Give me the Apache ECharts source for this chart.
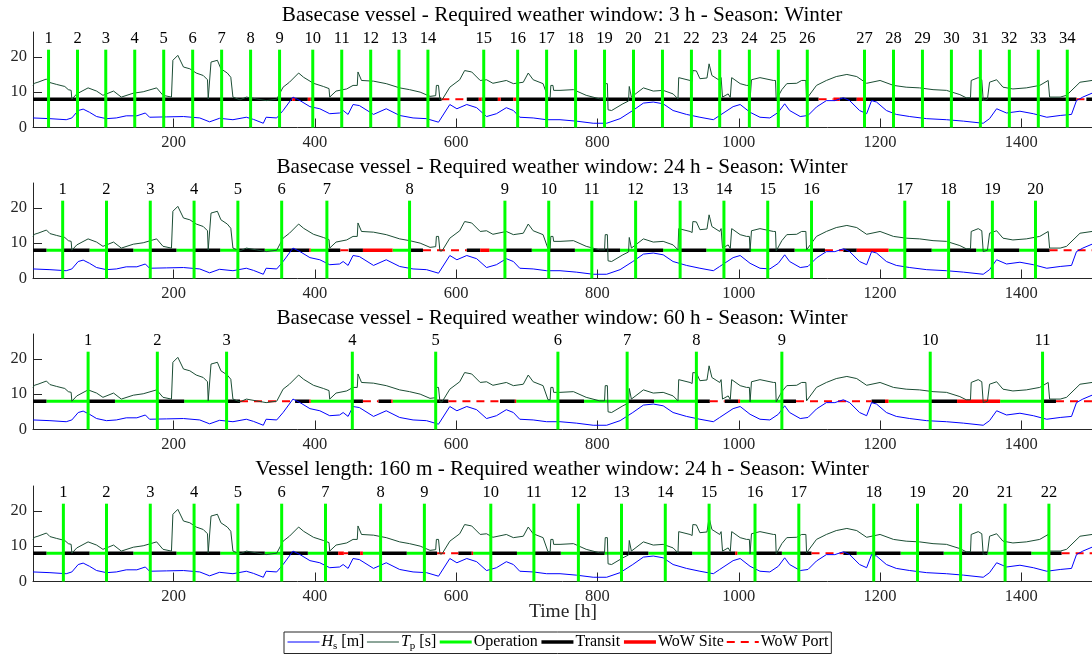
<!DOCTYPE html>
<html>
<head>
<meta charset="utf-8">
<script src="https://cdn.jsdelivr.net/npm/echarts@6/dist/echarts.min.js"></script>
<style>
  html, body { margin: 0; padding: 0; background: #fff; }
  #chart { width: 1092px; height: 659px; }
</style>
</head>
<body>
<div id="chart"></div>
<script>
// ---- Weather time series (shared by all four panels) ----
const hsHours = [1,25,48,56,65,72,81,91,105,119,133,148,160,166,190,214,237,251,265,284,303,313,327,331,346,355,369,379,393,407,421,435,440,447,454,463,
  483,501,520,539,558,575,591,601,615,629,643,657,671,681,690,709,728,747,770,794,813,832,850,865,879,893,907,926,945,964,973,
  992,1002,1016,1030,1044,1056,1065,1072,1087,1098,1110,1124,1136,1148,1157,1171,1181,1188,1195,1209,1223,1242,1266,1294,1318,1346,1355,1365,1379,1398,1417,1436,1455,1471,1478,1487,1500];
const hsValues = [2.7,2.5,2.2,2.7,4.8,5.2,4.3,3.1,2.5,2.7,3.3,3.3,4.1,2.9,3.0,3.1,2.7,1.6,2.6,2.2,2.9,2.3,1.2,2.9,2.7,4.8,8.6,7.6,5.9,5.3,3.9,4.1,4.8,3.7,6.5,6.2,
  3.7,5.3,3.4,2.7,2.5,1.5,6.5,5.3,6.5,5.6,3.1,3.9,5.6,4.8,2.9,2.7,2.2,2.2,1.8,1.2,1.2,2.5,4.8,6.9,7.2,6.7,4.8,3.7,2.9,2.2,3.4,
  5.9,6.5,4.3,2.9,2.7,4.3,6.7,4.8,3.1,3.4,5.8,7.6,7.6,8.4,7.6,4.8,3.9,7.6,7.2,4.8,3.7,3.1,2.5,2.2,1.8,1.2,2.5,5.3,4.1,4.6,3.9,2.9,3.4,3.7,7.6,8.6,9.7];

const tpHours = [1,3,8,20,25,34,46,51,55,56,58,63,79,91,100,115,126,143,157,176,185,197,199,206,214,223,232,242,248,249,250,253,262,267,276,281,284,294,303,317,331,346,355,364,377,384,398,412,420,421,430,445,454,460,461,466,483,501,520,534,549,563,571,572,575,577,580,591,605,612,622,634,643,652,671,681,695,702,709,723,730,733,734,737,738,747,766,784,803,810,811,814,815,820,836,844,845,847,848,850,865,879,893,907,914,915,931,934,935,940,945,955,958,960,962,973,975,977,985,988,990,1002,1011,1015,1016,1017,1018,1030,1049,1052,1053,1061,1068,1082,1089,1095,1096,1110,1124,1138,1153,1167,1181,1200,1219,1237,1256,1275,1294,1313,1322,1328,1329,1339,1344,1346,1352,1355,1365,1374,1388,1407,1426,1438,1439,1440,1455,1464,1483,1500];
const tpValues = [11.9,12.5,12.8,13.7,12.7,12.2,11.6,10.7,10.5,8.0,8.0,9.5,11.2,10.3,9.1,10.3,8.6,9.7,10.1,11.2,9.1,8.6,19.0,20.4,17.1,16.6,15.4,14.7,13.5,8.1,8.1,18.5,19.0,16.6,15.4,14.2,8.6,7.8,8.6,8.1,7.6,8.0,11.4,12.8,15.4,14.2,12.5,11.6,11.0,8.6,10.3,10.9,11.9,11.9,15.7,13.3,13.1,12.4,11.2,10.7,10.0,8.8,9.0,11.9,11.9,7.8,7.8,11.4,13.5,16.1,15.7,13.3,13.5,12.5,13.3,12.4,12.8,15.4,13.5,12.4,8.4,8.4,11.9,11.9,10.5,10.5,10.7,9.1,8.1,8.1,12.4,12.4,5.0,4.8,6.7,7.5,11.6,11.6,8.6,8.6,11.2,10.3,10.5,9.5,8.1,14.1,13.3,13.0,16.1,16.0,13.8,14.0,18.0,17.5,14.7,13.3,14.1,8.6,9.5,8.5,14.1,12.4,11.9,11.9,7.8,7.8,13.5,14.1,13.3,13.3,7.8,10.7,12.4,12.5,13.3,13.3,8.1,11.9,13.3,14.4,15.0,14.4,12.5,13.3,11.9,11.4,11.2,10.7,10.5,9.3,8.4,8.4,13.3,14.1,13.5,7.6,8.0,12.8,13.5,11.4,10.9,11.2,11.9,13.3,13.3,8.6,8.6,9.1,12.8,13.3];

// ---- Panel titles ----
const titles = [
  'Basecase vessel - Required weather window: 3 h - Season: Winter',
  'Basecase vessel - Required weather window: 24 h - Season: Winter',
  'Basecase vessel - Required weather window: 60 h - Season: Winter',
  'Vessel length: 160 m - Required weather window: 24 h - Season: Winter'
];

// ---- Operation times [h] per panel ----
const ops1 = [23,64,104,145,186,227,268,309,350,397,438,479,519,560,639,687,728,769,810,851,892,933,973,1015,1056,1097,1178,1219,1260,1301,1342,1383,1424,1465];
const ops2 = [43,105,167,229,291,353,417,534,669,731,792,854,917,979,1041,1103,1235,1297,1359,1420];
const ops3 = [79,177,275,453,571,744,842,940,1061,1271,1430];
const ops4 = [44,105,167,229,291,353,415,493,555,649,710,773,834,896,958,1023,1085,1191,1253,1314,1377,1439];

// ---- Vessel state intervals [start, end, state] per panel ----
// O = operation, T = transit, S = waiting on weather at site, P = waiting on weather in port
const states1 = [[1,368,'T'],[368,372,'S'],[372,390,'T'],[390,394,'S'],[394,579,'T'],[579,615,'P'],[615,632,'T'],[632,636,'S'],[636,659,'T'],[659,663,'S'],[663,681,'T'],[681,685,'S'],[685,1113,'T'],[1113,1134,'P'],[1134,1143,'S'],[1143,1167,'T'],[1167,1176,'S'],[1176,1478,'T'],[1478,1492,'P'],[1492,1500,'T']];
const states2 = [[1,20,'T'],[20,43,'O'],[43,81,'T'],[81,105,'O'],[105,143,'T'],[143,167,'O'],[167,204,'T'],[204,229,'O'],[229,266,'T'],[266,291,'O'],[291,329,'T'],[329,353,'O'],[353,392,'T'],[392,394,'S'],[394,417,'O'],[417,436,'T'],[436,448,'P'],[448,468,'T'],[468,510,'S'],[510,534,'O'],[534,553,'T'],[553,615,'P'],[615,634,'T'],[634,647,'S'],[647,669,'O'],[669,707,'T'],[707,731,'O'],[731,768,'T'],[768,792,'O'],[792,832,'T'],[832,854,'O'],[854,893,'T'],[893,917,'O'],[917,954,'T'],[954,979,'O'],[979,1017,'T'],[1017,1041,'O'],[1041,1079,'T'],[1079,1103,'O'],[1103,1122,'T'],[1122,1148,'P'],[1148,1167,'T'],[1167,1212,'S'],[1212,1235,'O'],[1235,1273,'T'],[1273,1297,'O'],[1297,1336,'T'],[1336,1359,'O'],[1359,1397,'T'],[1397,1420,'O'],[1420,1440,'T'],[1440,1500,'P']];
const states3 = [[1,20,'T'],[20,79,'O'],[79,117,'T'],[117,177,'O'],[177,215,'T'],[215,275,'O'],[275,294,'T'],[294,372,'P'],[372,392,'T'],[392,394,'S'],[394,453,'O'],[453,468,'T'],[468,490,'P'],[490,508,'T'],[508,510,'S'],[510,571,'O'],[571,589,'T'],[589,662,'P'],[662,683,'T'],[683,685,'S'],[685,744,'O'],[744,781,'T'],[781,842,'O'],[842,880,'T'],[880,940,'O'],[940,959,'T'],[959,980,'P'],[980,999,'T'],[999,1002,'S'],[1002,1061,'O'],[1061,1081,'T'],[1081,1188,'P'],[1188,1207,'T'],[1207,1212,'S'],[1212,1271,'O'],[1271,1309,'T'],[1309,1370,'S'],[1370,1430,'O'],[1430,1449,'T'],[1449,1500,'P']];
const states4 = [[1,20,'T'],[20,44,'O'],[44,81,'T'],[81,105,'O'],[105,143,'T'],[143,167,'O'],[167,204,'T'],[204,229,'O'],[229,266,'T'],[266,291,'O'],[291,329,'T'],[329,353,'O'],[353,390,'T'],[390,415,'O'],[415,433,'T'],[433,441,'S'],[441,447,'P'],[447,464,'T'],[464,468,'S'],[468,493,'O'],[493,530,'T'],[530,555,'O'],[555,573,'T'],[573,603,'P'],[603,622,'T'],[622,624,'S'],[624,649,'O'],[649,686,'T'],[686,710,'O'],[710,748,'T'],[748,773,'O'],[773,810,'T'],[810,834,'O'],[834,872,'T'],[872,896,'O'],[896,934,'T'],[934,958,'O'],[958,995,'T'],[995,998,'S'],[998,1023,'O'],[1023,1061,'T'],[1061,1085,'O'],[1085,1103,'T'],[1103,1148,'P'],[1148,1167,'T'],[1167,1191,'O'],[1191,1229,'T'],[1229,1253,'O'],[1253,1290,'T'],[1290,1314,'O'],[1314,1352,'T'],[1352,1377,'O'],[1377,1414,'T'],[1414,1439,'O'],[1439,1457,'T'],[1457,1500,'P']];

const xTicks = [200,400,600,800,1000,1200,1400];
const yTicks = [0,10,20];

// ---- Drawing ----
const SERIF = '"Liberation Serif", "DejaVu Serif", serif';
const STATE_LEVEL = 8;      // state bar drawn at this height
const OP_TOP = 22;          // top of operation markers
const OP_LABEL_Y = 25.2;    // height of operation numbers

const opsAll = [ops1, ops2, ops3, ops4];
const statesAll = [states1, states2, states3, states4];
const gridTops = [32, 183, 334, 486];
const titleY = [15, 167, 318, 469];

const hsData = hsHours.map((h, i) => [h, hsValues[i]]);
const tpData = tpHours.map((h, i) => [h, tpValues[i]]);

function segLine(states, code) {
  const out = [];
  states.filter(s => s[2] === code).forEach(s => {
    out.push([s[0], STATE_LEVEL], [s[1], STATE_LEVEL], [s[1], '-']);
  });
  return out;
}

const grids = [], xAxes = [], yAxes = [], series = [], graphics = [];
gridTops.forEach((top, k) => {
  grids.push({ left: 33, right: 0, top: top, height: 95.5 });
  graphics.push({
    type: 'text', x: 562, y: titleY[k], silent: true,
    style: { text: titles[k], font: '21.2px ' + SERIF, fill: '#000', align: 'center', verticalAlign: 'middle' }
  });
  xAxes.push({
    gridIndex: k, type: 'value', min: 1, max: 1500,
    axisLine: { lineStyle: { color: '#262626', width: 1 } },
    axisTick: { inside: true, length: 9, customValues: xTicks, lineStyle: { color: '#262626' } },
    axisLabel: { customValues: xTicks, formatter: v => String(v), fontFamily: SERIF, fontSize: 16.5, color: '#262626', margin: 7 },
    splitLine: { show: false }
  });
  yAxes.push({
    gridIndex: k, type: 'value', min: 0, max: 27,
    axisLine: { show: true, lineStyle: { color: '#262626', width: 1 } },
    axisTick: { show: true, inside: true, length: 9, customValues: yTicks, lineStyle: { color: '#262626' } },
    axisLabel: { customValues: yTicks, fontFamily: SERIF, fontSize: 16.5, color: '#262626', margin: 6 },
    splitLine: { show: false }
  });

  const st = statesAll[k];
  series.push(
    { name: 'Operation', type: 'line', xAxisIndex: k, yAxisIndex: k, data: segLine(st, 'O'),
      symbol: 'none', lineStyle: { color: '#00ff00', width: 3 }, itemStyle: { color: '#00ff00' }, z: 2 },
    { name: 'Transit', type: 'line', xAxisIndex: k, yAxisIndex: k, data: segLine(st, 'T'),
      symbol: 'none', lineStyle: { color: '#000000', width: 3.5 }, itemStyle: { color: '#000000' }, z: 2 },
    { name: 'WoW Site', type: 'line', xAxisIndex: k, yAxisIndex: k, data: segLine(st, 'S'),
      symbol: 'none', lineStyle: { color: '#ff0000', width: 3.5 }, itemStyle: { color: '#ff0000' }, z: 2 },
    { name: 'WoW Port', type: 'line', xAxisIndex: k, yAxisIndex: k, data: segLine(st, 'P'),
      symbol: 'none', lineStyle: { color: '#ff0000', width: 2, type: [8, 6] }, itemStyle: { color: '#ff0000' }, z: 2 },
    { name: 'Tp [s]', type: 'line', xAxisIndex: k, yAxisIndex: k, data: tpData,
      symbol: 'none', lineStyle: { color: '#1b4d34', width: 1 }, itemStyle: { color: '#1b4d34' }, z: 3 },
    { name: 'Hs [m]', type: 'line', xAxisIndex: k, yAxisIndex: k, data: hsData,
      symbol: 'none', lineStyle: { color: '#0000ff', width: 1 }, itemStyle: { color: '#0000ff' }, z: 3 },
    { name: 'ops' + k, type: 'custom', xAxisIndex: k, yAxisIndex: k, z: 4, silent: true,
      data: opsAll[k].map((t, i) => [t, i + 1]),
      renderItem: function (params, api) {
        const t = api.value(0);
        const p0 = api.coord([t, 0]);
        const p1 = api.coord([t, OP_TOP]);
        const pl = api.coord([t, OP_LABEL_Y]);
        return { type: 'group', children: [
          { type: 'line', shape: { x1: p0[0], y1: p0[1], x2: p1[0], y2: p1[1] },
            style: { stroke: '#00ff00', lineWidth: 3 } },
          { type: 'text', style: { text: String(api.value(1)), x: pl[0], y: pl[1],
            align: 'center', verticalAlign: 'middle', font: '16.5px ' + SERIF, fill: '#000' } }
        ] };
      }
    }
  );
});

graphics.push({
  type: 'text', x: 563, y: 612, silent: true,
  style: { text: 'Time [h]', font: '19.5px ' + SERIF, fill: '#262626', align: 'center', verticalAlign: 'middle' }
});

const legendNames = { 'Hs [m]': '{i|H}{sub|s} [m]', 'Tp [s]': '{i|T}{sub|p} [s]' };

const chart = echarts.init(document.getElementById('chart'), null, { renderer: 'canvas' });
chart.setOption({
  animation: false,
  backgroundColor: '#fff',
  grid: grids,
  xAxis: xAxes,
  yAxis: yAxes,
  legend: {
    data: ['Hs [m]', 'Tp [s]', 'Operation', 'Transit', 'WoW Site', 'WoW Port'],
    left: 284, top: 632, orient: 'horizontal',
    itemWidth: 32, itemHeight: 12, itemGap: 2,
    padding: [2, 3, 2, 3],
    borderColor: '#262626', borderWidth: 1,
    itemStyle: { opacity: 0 },
    lineStyle: { width: 'inherit' },
    formatter: name => legendNames[name] || name,
    textStyle: {
      fontFamily: SERIF, fontSize: 16, color: '#000', padding: [0, 0, 0, -3],
      rich: {
        i: { fontFamily: SERIF, fontSize: 16, fontStyle: 'italic' },
        sub: { fontFamily: SERIF, fontSize: 11, padding: [8, 0, 0, 0] }
      }
    }
  },
  graphic: graphics,
  series: series
});
</script>
</body>
</html>
